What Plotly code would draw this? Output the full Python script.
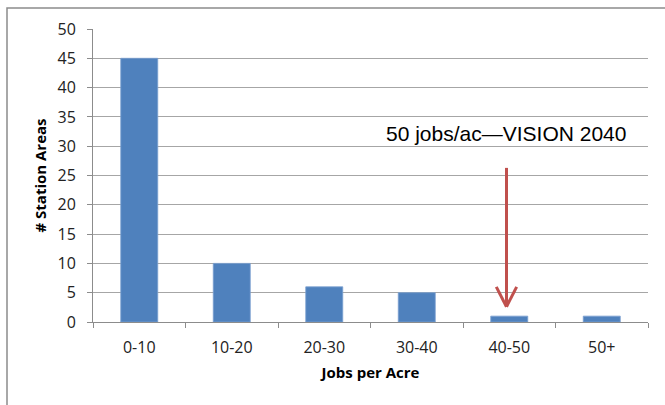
import plotly.graph_objects as go

categories = ["0-10", "10-20", "20-30", "30-40", "40-50", "50+"]
station_areas = [45, 10, 6, 5, 1, 1]
y_ticks = [0, 5, 10, 15, 20, 25, 30, 35, 40, 45, 50]

note_text = "50 jobs/ac\u2014VISION 2040"
arrow_cat_index = 3.97
arrow_tail_y = 26.3
arrow_tip_y = 2.6

fig = go.Figure()
fig.add_trace(go.Bar(
    x=categories, y=station_areas,
    marker=dict(color="#4f81bd", line=dict(color="#7aa0d0", width=0.8)),
    width=0.4,
))

red = "#c0504d"
fig.add_shape(type="line", xref="x", yref="y",
              x0=arrow_cat_index, x1=arrow_cat_index, y0=arrow_tail_y, y1=arrow_tip_y + 0.3,
              line=dict(color=red, width=3))
for dx in (-0.11, 0.11):
    fig.add_shape(type="line", xref="x", yref="y",
                  x0=arrow_cat_index, y0=arrow_tip_y, x1=arrow_cat_index + dx, y1=arrow_tip_y + 3.4,
                  line=dict(color=red, width=3))

fig.add_annotation(xref="x", yref="y", x=arrow_cat_index, y=32.2, text=note_text,
                   showarrow=False, font=dict(family="Liberation Sans, Arial", size=21, color="black"))

fig.add_shape(type="rect", xref="paper", yref="paper",
              x0=-86 / 555, x1=1.2, y0=-0.5, y1=1 + 21 / 293,
              line=dict(color="#8c8c8c", width=1.5), fillcolor="rgba(0,0,0,0)", layer="below")

fig.update_layout(
    width=665, height=405,
    margin=dict(l=93, r=17, t=29, b=83, autoexpand=False),
    paper_bgcolor="white", plot_bgcolor="white",
    showlegend=False,
    font=dict(family="Open Sans, DejaVu Sans", size=16, color="#222"),
    bargap=0.6,
)
fig.update_xaxes(
    type="category", showline=True, linecolor="#8c8c8c", linewidth=1,
    ticks="outside", tickson="boundaries", ticklen=5, tickcolor="#8c8c8c",
    showgrid=False, automargin=False,
    title=dict(text="<b>Jobs per Acre</b>", font=dict(family="Open Sans, DejaVu Sans", size=15, color="black"), standoff=10),
    tickfont=dict(size=16, color="#222"),
    ticklabelstandoff=11,
)
fig.update_yaxes(
    range=[0, 50], tickvals=y_ticks, showline=True, linecolor="#8c8c8c", linewidth=1,
    ticks="outside", ticklen=5, tickcolor="#8c8c8c",
    showgrid=True, gridcolor="#a6a6a6", gridwidth=1, zeroline=False, automargin=False,
    title=dict(text="<b># Station Areas</b>", font=dict(family="Open Sans, DejaVu Sans", size=15, color="black"), standoff=7),
    tickfont=dict(size=16, color="#222"),
    ticklabelstandoff=8,
)

fig.write_html("out.html", post_script="document.body.style.margin='0';",
               config={"displayModeBar": False})
